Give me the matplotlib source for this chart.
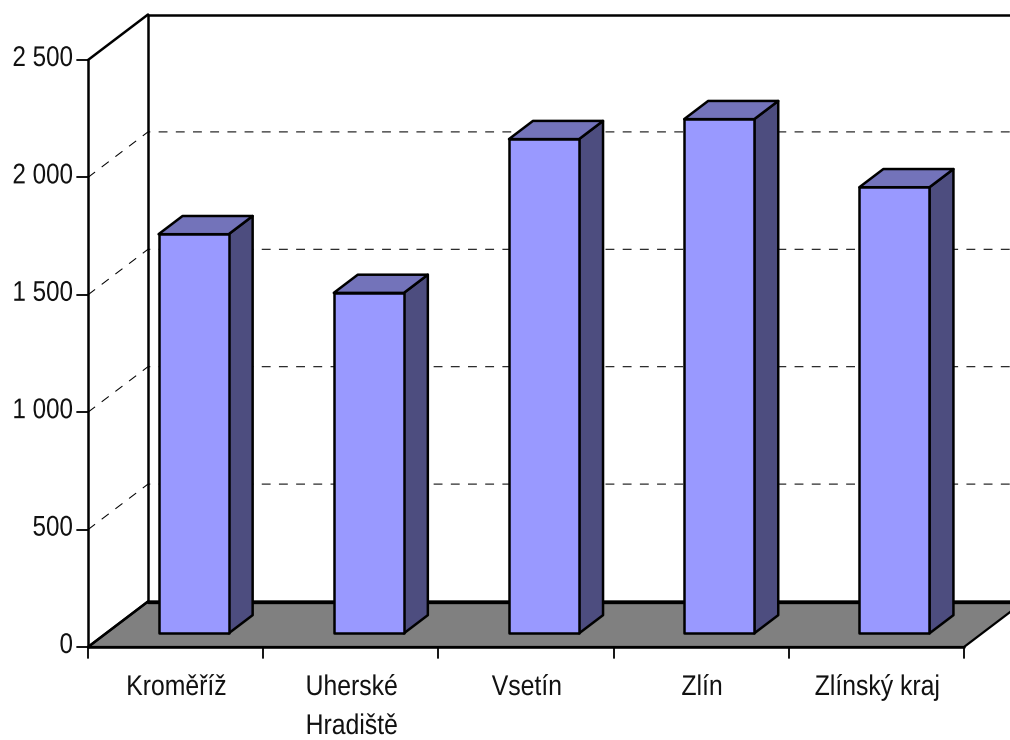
import matplotlib
matplotlib.use('Agg')
import matplotlib.pyplot as plt
from matplotlib.patches import Polygon
from matplotlib.patheffects import AbstractPathEffect
from matplotlib.transforms import Affine2D

plt.rcParams['font.family'] = ['Liberation Sans', 'DejaVu Sans']

categories = ['Kroměříž', 'Uherské\nHradiště', 'Vsetín', 'Zlín', 'Zlínský kraj']
values = [1700, 1450, 2105, 2190, 1900]
y_ticks = [0, 500, 1000, 1500, 2000, 2500]
y_labels = ['0', '500', '1 000', '1 500', '2 000', '2 500']

W, H = 1010, 740
fig = plt.figure(figsize=(W / 100, H / 100), dpi=100)
# os x 88-964 px, os y 647-60 px
ax = fig.add_axes([88 / W, 1 - 647 / H, 876 / W, 587 / H])
ax.set_xlim(0, 5)
ax.set_ylim(0, 2500)
ax.axis('off')

px_x = 5 / 876
px_y = 2500 / 587

# hloubka 3D sloupcu v jednotkach dat
dep_x = 60 * px_x
dep_y = 45.5 * px_y
bar_w = 0.4
fs = 20.5


# zuzeny text, original je v uzsim pismu
class Squeeze(AbstractPathEffect):
    def __init__(self, cx, sx):
        super().__init__()
        self.cx = cx
        self.sx = sx

    def draw_path(self, renderer, gc, tpath, affine, rgbFace=None):
        t = affine + Affine2D().translate(-self.cx, 0).scale(self.sx, 1).translate(self.cx, 0)
        renderer.draw_path(gc, tpath, t, rgbFace)


def label(x, y, s, ha, sx=0.85):
    cx = ax.transData.transform((x, y))[0]
    txt = ax.text(x, y, s, ha=ha, va='baseline', fontsize=fs, color='#111111')
    txt.set_path_effects([Squeeze(cx, sx)])


def poly(pts, fc, lw=1.8, z=2):
    ax.add_patch(Polygon(pts, closed=True, fc=fc, ec='black', lw=lw, zorder=z,
                         clip_on=False, joinstyle='round'))


def line(xs, ys, lw=1.8, z=1.5, **kw):
    ax.plot(xs, ys, color='black', lw=lw, zorder=z, clip_on=False,
            solid_capstyle='round', **kw)


# podlaha
poly([(0, 0), (5, 0), (5 + dep_x, dep_y), (dep_x, dep_y)], '#808080', lw=1.6, z=1)

# mrizka
dash = (0, (8.5, 8))
for t in y_ticks[1:-1]:
    ax.plot([0, dep_x, 5 + dep_x], [t, t + dep_y, t + dep_y], color='black', lw=0.75,
            ls=dash, zorder=1, clip_on=False)

# steny
line([0, 0], [0, 2500], z=3)
line([0, dep_x], [2500, 2500 + dep_y])
line([dep_x, dep_x], [dep_y, 2500 + dep_y])
line([dep_x, 5 + dep_x], [2500 + dep_y, 2500 + dep_y])
line([dep_x, 5 + dep_x], [dep_y, dep_y], lw=2.4)
line([0, dep_x], [0, dep_y], z=3)
line([0, 5], [0, 0], z=3)

# znacky a popisky
for t, lab in zip(y_ticks, y_labels):
    line([-11 * px_x, 0], [t, t], lw=1.3, z=3)
    label(-15 * px_x, t - 6 * px_y, lab, 'right')
for i in range(6):
    line([i, i], [-11 * px_y, 0], lw=1.3, z=3)
for i, c in enumerate(categories):
    for j, part in enumerate(c.split('\n')):
        label(i + 0.505, -(48 + 39 * j) * px_y, part, 'center', sx=0.87)

# sloupce
for i, v in enumerate(values):
    x0 = i + 0.5 + 0.3 * dep_x - bar_w / 2
    y0 = 0.3 * dep_y
    x1 = x0 + bar_w
    top = y0 + v
    ddx, ddy = 0.4 * dep_x, 0.4 * dep_y
    poly([(x1, y0), (x1 + ddx, y0 + ddy), (x1 + ddx, top + ddy), (x1, top)], '#4D4D7F', z=4)
    poly([(x0, top), (x1, top), (x1 + ddx, top + ddy), (x0 + ddx, top + ddy)], '#7373BA', z=4)
    poly([(x0, y0), (x1, y0), (x1, top), (x0, top)], '#9999FF', z=5)

fig.savefig('out.png', dpi=100)
